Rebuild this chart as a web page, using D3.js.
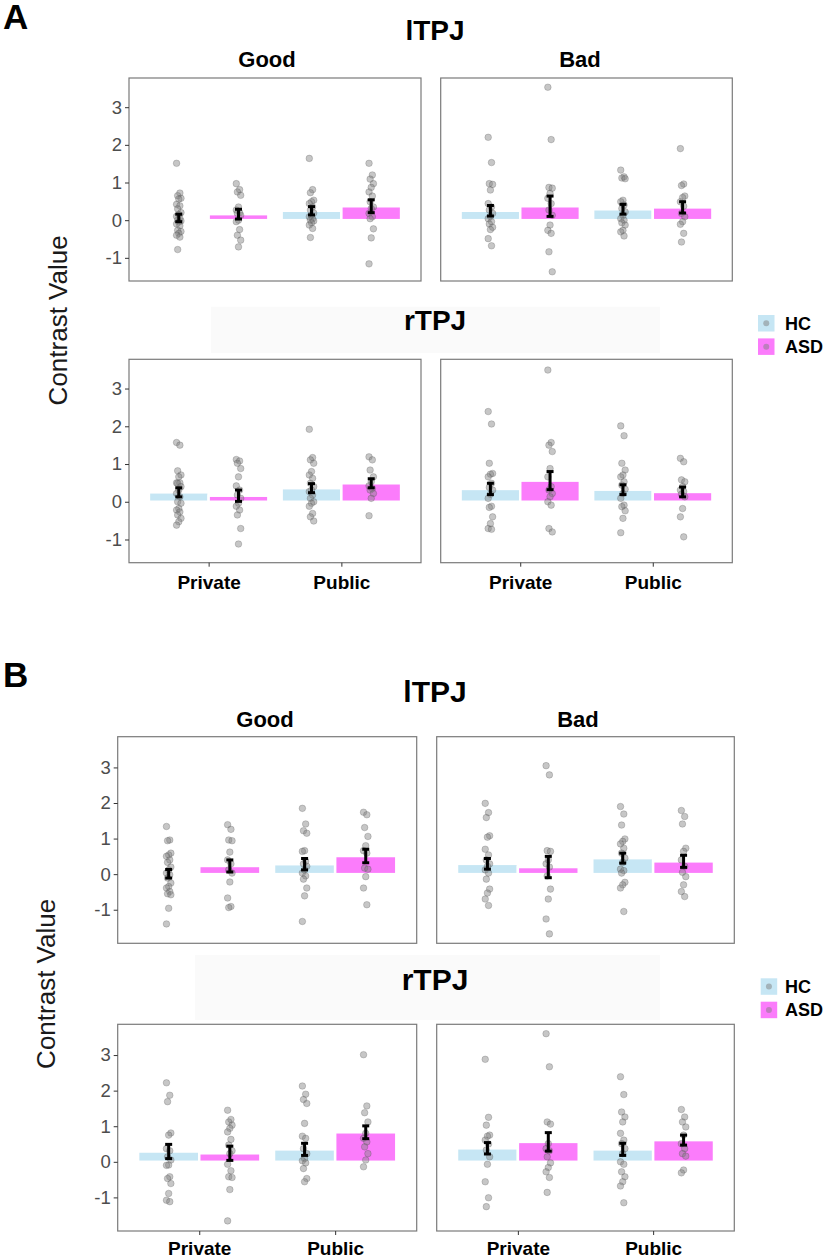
<!DOCTYPE html>
<html>
<head>
<meta charset="utf-8">
<script src="https://cdn.jsdelivr.net/npm/d3@7"></script>
<style>
  body { margin: 0; background: #fff; }
  svg { font-family: "Liberation Sans", Arial, sans-serif; }
</style>
</head>
<body>
<svg id="chart" width="825" height="1258"></svg>
<script>
/*
    Bar + dot plots of contrast values (HC vs ASD) for lTPJ / rTPJ
 */

const groups = ["HC", "ASD"];
const conditions = ["Private", "Public"];
const valences = ["Good", "Bad"];
const rois = ["lTPJ", "rTPJ"];
const yTicks = [-1, 0, 1, 2, 3];
const groupColors = ["#c6e6f4", "#fb7cfb"];

// order inside each array: HC-Private, ASD-Private, HC-Public, ASD-Public
const meansA_lTPJ_Good = [0.06, 0.16, 0.25, 0.37];
const seA_lTPJ_Good = [0.10, 0.13, 0.11, 0.17];
const pointsA_lTPJ_Good = [
    [1.51, 0.72, 0.65, 0.58, 0.56, 0.42, 0.38, 0.30, 0.20, 0.15, 0.10, 0.05, 0.0, -0.02, -0.05, -0.10, -0.15, -0.27, -0.30, -0.35, -0.40, -0.45, -0.78],
    [0.97, 0.81, 0.75, 0.66, 0.35, 0.27, 0.20, 0.18, 0.13, 0.0, -0.04, -0.25, -0.40, -0.53, -0.71],
    [1.64, 0.81, 0.73, 0.53, 0.49, 0.44, 0.35, 0.27, 0.19, 0.13, 0.09, 0.04, 0.0, -0.02, -0.07, -0.13, -0.22, -0.46],
    [1.51, 1.20, 1.09, 0.97, 0.87, 0.75, 0.64, 0.49, 0.35, 0.31, 0.18, 0.09, 0.04, -0.23, -0.47, -1.16]
];

const meansA_lTPJ_Bad = [0.25, 0.37, 0.29, 0.34];
const seA_lTPJ_Bad = [0.14, 0.27, 0.13, 0.15];
const pointsA_lTPJ_Bad = [
    [2.20, 1.53, 0.97, 0.95, 0.80, 0.44, 0.35, 0.27, 0.18, 0.10, 0.04, -0.04, -0.10, -0.19, -0.25, -0.49, -0.68],
    [3.53, 2.14, 0.87, 0.85, 0.71, 0.58, 0.44, 0.27, 0.13, -0.13, -0.27, -0.35, -0.84, -1.37],
    [1.33, 1.15, 1.12, 1.10, 0.53, 0.49, 0.40, 0.31, 0.22, 0.13, 0.04, 0.0, -0.07, -0.13, -0.27, -0.31, -0.42],
    [1.90, 0.96, 0.92, 0.64, 0.60, 0.49, 0.37, 0.18, 0.09, -0.04, -0.11, -0.35, -0.58]
];

const meansA_rTPJ_Good = [0.25, 0.16, 0.36, 0.49];
const seA_rTPJ_Good = [0.12, 0.15, 0.12, 0.12];
const pointsA_rTPJ_Good = [
    [1.57, 1.50, 0.82, 0.71, 0.66, 0.50, 0.50, 0.49, 0.40, 0.31, 0.22, 0.13, 0.0, -0.04, -0.18, -0.22, -0.27, -0.35, -0.44, -0.53, -0.62],
    [1.12, 1.08, 1.02, 0.88, 0.66, 0.42, 0.31, 0.18, 0.09, -0.04, -0.12, -0.22, -0.35, -0.71, -1.12],
    [1.92, 1.17, 1.11, 1.02, 0.80, 0.71, 0.62, 0.49, 0.40, 0.31, 0.27, 0.18, 0.09, 0.0, -0.04, -0.12, -0.31, -0.40, -0.51],
    [1.19, 1.11, 0.84, 0.66, 0.53, 0.42, 0.35, 0.31, 0.22, 0.09, -0.37]
];

const meansA_rTPJ_Bad = [0.34, 0.56, 0.32, 0.26];
const seA_rTPJ_Bad = [0.15, 0.24, 0.13, 0.13];
const pointsA_rTPJ_Bad = [
    [2.39, 2.06, 1.02, 0.75, 0.73, 0.66, 0.49, 0.38, 0.31, 0.20, 0.09, -0.12, -0.15, -0.40, -0.58, -0.71, -0.73],
    [3.49, 1.57, 1.50, 1.33, 0.88, 0.66, 0.40, 0.31, 0.22, 0.13, 0.0, -0.09, -0.71, -0.80],
    [2.01, 1.75, 1.02, 0.84, 0.71, 0.66, 0.53, 0.44, 0.33, 0.22, 0.09, -0.09, -0.13, -0.24, -0.44, -0.82],
    [1.15, 1.06, 0.58, 0.53, 0.40, 0.31, 0.27, 0.20, 0.13, -0.18, -0.40, -0.93]
];

const meansB_lTPJ_Good = [0.01, 0.23, 0.28, 0.51];
const seB_lTPJ_Good = [0.12, 0.17, 0.16, 0.19];
const pointsB_lTPJ_Good = [
    [1.34, 0.96, 0.94, 0.59, 0.54, 0.50, 0.40, 0.33, 0.20, 0.12, 0.03, -0.02, -0.11, -0.25, -0.35, -0.39, -0.49, -0.55, -0.58, -0.96, -1.40],
    [1.39, 1.26, 0.96, 0.94, 0.62, 0.40, 0.29, 0.12, 0.03, -0.22, -0.67, -0.91, -0.94],
    [1.85, 1.41, 1.22, 1.15, 0.66, 0.64, 0.36, 0.29, 0.22, 0.12, 0.03, -0.05, -0.14, -0.39, -0.61, -1.33],
    [1.74, 1.67, 1.31, 1.06, 0.80, 0.66, 0.59, 0.17, 0.14, -0.07, -0.39, -0.86]
];

const meansB_lTPJ_Bad = [0.29, 0.20, 0.45, 0.36];
const seB_lTPJ_Bad = [0.15, 0.30, 0.14, 0.17];
const pointsB_lTPJ_Bad = [
    [1.99, 1.73, 1.59, 1.08, 1.04, 0.70, 0.54, 0.40, 0.29, 0.22, 0.12, 0.03, -0.14, -0.42, -0.53, -0.70, -0.88],
    [3.05, 2.79, 0.66, 0.64, 0.40, 0.29, 0.20, -0.05, -0.42, -0.70, -1.26, -1.68],
    [1.90, 1.69, 1.38, 0.99, 0.92, 0.85, 0.73, 0.59, 0.45, 0.33, 0.14, 0.10, 0.03, -0.23, -0.30, -0.39, -1.05],
    [1.79, 1.62, 1.41, 0.73, 0.64, 0.40, 0.22, 0.05, -0.07, -0.30, -0.49, -0.63]
];

const meansB_rTPJ_Good = [0.29, 0.24, 0.35, 0.83];
const seB_rTPJ_Good = [0.20, 0.20, 0.17, 0.18];
const pointsB_rTPJ_Good = [
    [2.22, 1.87, 1.69, 0.81, 0.75, 0.37, 0.31, 0.14, 0.05, -0.09, -0.10, -0.42, -0.47, -0.61, -0.89, -1.08, -1.12],
    [1.45, 1.19, 1.12, 1.03, 0.94, 0.84, 0.63, 0.47, 0.31, 0.23, -0.07, -0.25, -0.42, -0.44, -0.78, -1.66],
    [2.13, 1.90, 1.75, 1.64, 1.08, 0.72, 0.66, 0.37, 0.23, 0.09, 0.03, -0.03, -0.19, -0.47, -0.56],
    [3.01, 1.57, 1.38, 1.12, 0.80, 0.66, 0.56, 0.42, 0.23, 0.05, -0.14]
];

const meansB_rTPJ_Bad = [0.38, 0.56, 0.35, 0.61];
const seB_rTPJ_Bad = [0.16, 0.26, 0.17, 0.14];
const pointsB_rTPJ_Bad = [
    [2.88, 1.25, 1.03, 0.75, 0.72, 0.61, 0.50, 0.33, 0.14, -0.07, -0.56, -1.01, -1.26],
    [3.60, 2.67, 1.12, 1.06, 0.51, 0.37, 0.31, 0.14, -0.03, -0.16, -0.28, -0.44, -0.86],
    [2.39, 1.89, 1.40, 1.26, 1.12, 0.80, 0.61, 0.51, 0.37, 0.23, 0.0, -0.07, -0.28, -0.42, -0.56, -0.68, -1.15],
    [1.47, 1.26, 1.12, 0.98, 0.75, 0.51, 0.37, 0.23, 0.16, -0.23, -0.31]
];

const panelData = {
    A: {
        lTPJ: { Good: [meansA_lTPJ_Good, seA_lTPJ_Good, pointsA_lTPJ_Good], Bad: [meansA_lTPJ_Bad, seA_lTPJ_Bad, pointsA_lTPJ_Bad] },
        rTPJ: { Good: [meansA_rTPJ_Good, seA_rTPJ_Good, pointsA_rTPJ_Good], Bad: [meansA_rTPJ_Bad, seA_rTPJ_Bad, pointsA_rTPJ_Bad] }
    },
    B: {
        lTPJ: { Good: [meansB_lTPJ_Good, seB_lTPJ_Good, pointsB_lTPJ_Good], Bad: [meansB_lTPJ_Bad, seB_lTPJ_Bad, pointsB_lTPJ_Bad] },
        rTPJ: { Good: [meansB_rTPJ_Good, seB_rTPJ_Good, pointsB_rTPJ_Good], Bad: [meansB_rTPJ_Bad, seB_rTPJ_Bad, pointsB_rTPJ_Bad] }
    }
};

// page layout of the two figure parts
const layouts = [
    { id: "A", labelY: 29, cols: [[129, 421], [440.7, 732.3]], rows: [[78, 281], [359.3, 562.7]],
      roiY: [40, 330], strip: [211, 306.7, 660, 353], facetY: 67, facetX: [267, 580],
      yLabelX: 67, legendX: 758, legendY: 315, xLabelY: 589, roiSize: 28 },
    { id: "B", labelY: 687, cols: [[117.7, 416.7], [436.7, 734.3]], rows: [[736.7, 943.3], [1024.3, 1231]],
      roiY: [701.5, 990], strip: [195, 955, 660, 1020], facetY: 727, facetX: [265, 578],
      yLabelX: 55, legendX: 760.7, legendY: 978.3, xLabelY: 1255, roiSize: 30 }
];

const FONT = "Liberation Sans, Arial, sans-serif";
const svg = d3.select("#chart");

function drawPanel(g, x0, x1, y0, y1, data, yScale, showY, xLabelY) {
    let [means, se, points] = data;
    let x = d3.scalePoint().domain(conditions).range([x0, x1]).padding(0.6);
    let step = x.step();
    let sub = d3.scaleBand().domain(groups).range([-0.45 * step, 0.45 * step]);

    let cells = [];
    conditions.forEach((c, ci) => {
        groups.forEach((gr, gi) => {
            let k = ci * 2 + gi;
            cells.push({ cond: c, group: gr, gi: gi, mean: means[k], se: se[k], points: points[k] });
        });
    });
    let centre = d => x(d.cond) + sub(d.group) + sub.bandwidth() / 2;

    // bars
    g.selectAll(null).data(cells).enter().append("rect")
        .attr("x", d => x(d.cond) + sub(d.group))
        .attr("width", sub.bandwidth())
        .attr("y", d => yScale(Math.max(d.mean, 0)))
        .attr("height", d => Math.abs(yScale(d.mean) - yScale(0)))
        .attr("fill", d => groupColors[d.gi])
        .attr("stroke", "#fff")
        .attr("stroke-width", 2.5);

    // individual points, small fixed jitter
    cells.forEach(d => {
        let cx = centre(d);
        g.selectAll(null).data(d.points).enter().append("circle")
            .attr("cx", (v, i) => cx + (((i * 3) % 5) - 2) * 1.1)
            .attr("cy", v => yScale(v))
            .attr("r", 3.3)
            .attr("fill", "#808080")
            .attr("fill-opacity", 0.45)
            .attr("stroke", "#333")
            .attr("stroke-opacity", 0.3)
            .attr("stroke-width", 0.7);
    });

    // error bars (mean +/- se)
    cells.forEach(d => {
        let cx = centre(d);
        let eb = g.append("g").attr("stroke", "#000").attr("stroke-width", 3);
        eb.append("line").attr("x1", cx).attr("x2", cx)
            .attr("y1", yScale(d.mean + d.se)).attr("y2", yScale(d.mean - d.se));
        [d.mean + d.se, d.mean - d.se].forEach(v => {
            eb.append("line").attr("x1", cx - 3.5).attr("x2", cx + 3.5)
                .attr("y1", yScale(v)).attr("y2", yScale(v));
        });
    });

    // panel border
    g.append("rect").attr("x", x0).attr("y", y0)
        .attr("width", x1 - x0).attr("height", y1 - y0)
        .attr("fill", "none").attr("stroke", "#7a7a7a").attr("stroke-width", 1.2);

    if (showY) {
        let ax = g.append("g").attr("transform", `translate(${x0},0)`)
            .call(d3.axisLeft(yScale).tickValues(yTicks).tickSize(4).tickPadding(3).tickFormat(d => String(d)));
        ax.select(".domain").remove();
        ax.selectAll("line").attr("stroke", "#333");
        ax.selectAll("text").style("font-size", "18.5px").style("font-family", FONT).attr("fill", "#4d4d4d");
    }
    if (xLabelY != null) {
        let ax = g.append("g").attr("transform", `translate(0,${y1})`)
            .call(d3.axisBottom(x).tickSize(4));
        ax.select(".domain").remove();
        ax.selectAll("line").attr("stroke", "#333");
        ax.selectAll("text").style("font-size", "19px").style("font-weight", "bold").style("font-family", FONT)
            .attr("fill", "#000").attr("dy", null).attr("y", xLabelY - y1);
    }
}

layouts.forEach(L => {
    let g = svg.append("g");
    let fig = panelData[L.id];

    // shared y range for the figure part, 5% expansion like ggplot
    let all = [];
    rois.forEach(r => valences.forEach(v => fig[r][v][2].forEach(arr => all.push(...arr))));
    let ext = d3.extent(all);
    let pad = (ext[1] - ext[0]) * 0.05;

    g.append("text").attr("x", 3).attr("y", L.labelY)
        .attr("font-size", 35).attr("font-weight", "bold").text(L.id);

    // faint strip behind rTPJ title
    g.append("rect").attr("x", L.strip[0]).attr("y", L.strip[1])
        .attr("width", L.strip[2] - L.strip[0]).attr("height", L.strip[3] - L.strip[1])
        .attr("fill", "#fafafa");

    rois.forEach((roi, ri) => {
        g.append("text").attr("x", 435).attr("y", L.roiY[ri])
            .attr("text-anchor", "middle").attr("font-size", L.roiSize).attr("font-weight", "bold")
            .text(roi);
        let [y0, y1] = L.rows[ri];
        let yScale = d3.scaleLinear().domain([ext[0] - pad, ext[1] + pad]).range([y1, y0]);
        valences.forEach((val, vi) => {
            let [x0, x1] = L.cols[vi];
            drawPanel(g.append("g"), x0, x1, y0, y1, fig[roi][val], yScale, vi === 0, ri === 1 ? L.xLabelY : null);
            if (ri === 0) {
                g.append("text").attr("x", L.facetX[vi]).attr("y", L.facetY)
                    .attr("text-anchor", "middle").attr("font-size", 22).attr("font-weight", "bold")
                    .text(val);
            }
        });
    });

    // y axis title
    let yc = (L.rows[0][0] + L.rows[1][1]) / 2;
    g.append("text").attr("transform", `translate(${L.yLabelX},${yc}) rotate(-90)`)
        .attr("text-anchor", "middle").attr("font-size", 26).attr("fill", "#1a1a1a")
        .text("Contrast Value");

    // legend
    groups.forEach((gr, gi) => {
        let ky = L.legendY + gi * 23.4;
        g.append("rect").attr("x", L.legendX).attr("y", ky).attr("width", 16.5).attr("height", 16.5)
            .attr("fill", groupColors[gi]);
        g.append("circle").attr("cx", L.legendX + 8.25).attr("cy", ky + 8.25).attr("r", 3)
            .attr("fill", "#808080").attr("fill-opacity", 0.5);
        g.append("text").attr("x", 785).attr("y", ky + 14.5)
            .attr("font-size", 18).attr("font-weight", "bold").text(gr);
    });
});
</script>
</body>
</html>
